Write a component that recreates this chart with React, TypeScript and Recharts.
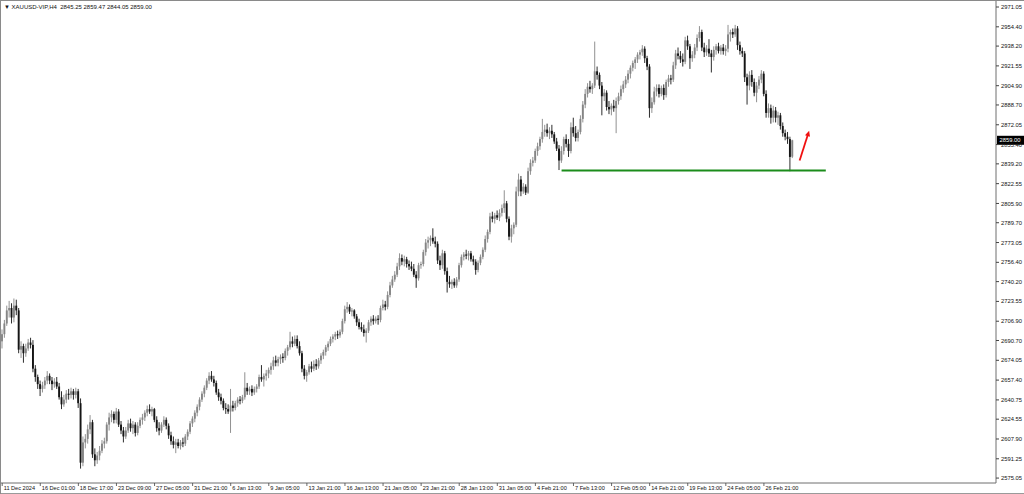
import { Bar, ComposedChart, ReferenceLine, XAxis, YAxis } from "recharts";

// XAUUSD H4, 11 Dec 2024 09:00 .. 28 Feb 2025
const opens = [
  2690, 2696, 2705, 2716, 2718, 2710, 2720, 2716, 2683, 2686,
  2680, 2684, 2689, 2687, 2667, 2660, 2654, 2650, 2653, 2657,
  2661, 2657, 2654, 2656, 2652, 2643, 2637, 2641, 2646, 2645,
  2648, 2645, 2648, 2638, 2588, 2605, 2608, 2616, 2622, 2595,
  2590, 2594, 2598, 2604, 2606, 2620, 2626, 2629, 2624, 2631,
  2620, 2615, 2610, 2615, 2621, 2617, 2620, 2613, 2619, 2624,
  2626, 2630, 2633, 2631, 2633, 2624, 2617, 2615, 2620, 2624,
  2619, 2611, 2606, 2603, 2605, 2602, 2605, 2604, 2610, 2614,
  2621, 2625, 2630, 2635, 2641, 2646, 2651, 2657, 2661, 2658,
  2655, 2647, 2643, 2640, 2634, 2633, 2631, 2636, 2634, 2638,
  2641, 2640, 2643, 2651, 2648, 2650, 2647, 2650, 2652, 2660,
  2658, 2661, 2663, 2666, 2669, 2674, 2672, 2675, 2677, 2676,
  2682, 2685, 2690, 2688, 2692, 2686, 2680, 2667, 2661, 2664,
  2669, 2667, 2671, 2669, 2674, 2678, 2681, 2685, 2688, 2692,
  2694, 2696, 2695, 2698, 2707, 2717, 2719, 2715, 2716, 2711,
  2706, 2702, 2700, 2697, 2699, 2706, 2709, 2707, 2709, 2708,
  2718, 2721, 2719, 2729, 2737, 2742, 2746, 2753, 2760, 2757,
  2759, 2755, 2753, 2751, 2746, 2743, 2754, 2755, 2765, 2773,
  2775, 2777, 2774, 2772, 2758, 2754, 2764, 2749, 2740, 2738,
  2740, 2737, 2742, 2754, 2761, 2763, 2762, 2764, 2759, 2757,
  2750, 2756, 2761, 2767, 2776, 2782, 2795, 2793, 2796, 2794,
  2798, 2802, 2806, 2793, 2778, 2785, 2788, 2816, 2826, 2816,
  2820, 2815, 2833, 2840, 2842, 2850, 2854, 2860, 2866, 2868,
  2865, 2867, 2864, 2858, 2852, 2842, 2850, 2860, 2856, 2850,
  2870, 2865, 2861, 2866, 2877, 2889, 2898, 2904, 2902, 2905,
  2917, 2914, 2905, 2896, 2899, 2887, 2885, 2888, 2886, 2892,
  2896, 2902, 2906, 2910, 2915, 2920, 2924, 2927, 2931, 2933,
  2936, 2928, 2921, 2886, 2891, 2900, 2903, 2898, 2903, 2897,
  2908, 2911, 2910, 2922, 2932, 2930, 2927, 2925, 2943, 2938,
  2928, 2931, 2937, 2945, 2950, 2937, 2933, 2936, 2932, 2929,
  2935, 2938, 2934, 2937, 2934, 2936, 2948, 2950, 2948, 2953,
  2939, 2934, 2932, 2912, 2905, 2914, 2908, 2899, 2905, 2910,
  2915, 2898, 2882, 2886, 2878, 2884, 2878, 2880, 2871, 2865,
  2862, 2860, 2845.25,
];

const highs = [
  2700, 2708, 2720, 2724, 2722, 2726, 2725, 2718, 2690, 2688,
  2688, 2692, 2693, 2691, 2670, 2662, 2657, 2656, 2660, 2665,
  2663, 2660, 2659, 2660, 2655, 2648, 2645, 2649, 2650, 2651,
  2650, 2651, 2650, 2642, 2610, 2612, 2620, 2628, 2624, 2600,
  2597, 2602, 2607, 2609, 2622, 2630, 2632, 2631, 2634, 2633,
  2623, 2618, 2618, 2624, 2625, 2623, 2622, 2622, 2626, 2629,
  2632, 2636, 2637, 2635, 2634, 2627, 2622, 2622, 2627, 2626,
  2621, 2614, 2610, 2608, 2608, 2607, 2609, 2612, 2616, 2623,
  2627, 2632, 2637, 2643, 2648, 2653, 2659, 2664, 2665, 2661,
  2657, 2650, 2646, 2642, 2638, 2637, 2650, 2640, 2640, 2643,
  2644, 2645, 2664, 2655, 2652, 2653, 2652, 2654, 2662, 2670,
  2663, 2666, 2668, 2672, 2677, 2678, 2677, 2679, 2680, 2684,
  2687, 2698, 2694, 2695, 2695, 2690, 2682, 2670, 2666, 2671,
  2673, 2674, 2675, 2676, 2680, 2683, 2687, 2690, 2694, 2696,
  2698, 2699, 2700, 2709, 2720, 2723, 2721, 2718, 2717, 2713,
  2709, 2706, 2704, 2701, 2708, 2711, 2712, 2711, 2712, 2720,
  2725, 2724, 2732, 2740, 2745, 2749, 2756, 2764, 2763, 2762,
  2761, 2758, 2757, 2755, 2749, 2756, 2757, 2767, 2776, 2778,
  2779, 2785, 2778, 2774, 2762, 2767, 2766, 2752, 2745, 2742,
  2743, 2744, 2756, 2763, 2765, 2767, 2766, 2766, 2762, 2759,
  2758, 2763, 2769, 2779, 2784, 2798, 2799, 2798, 2800, 2801,
  2805, 2817, 2808, 2795, 2788, 2790, 2820, 2831, 2829, 2823,
  2822, 2836, 2843, 2845, 2852, 2857, 2862, 2877, 2872, 2873,
  2870, 2872, 2866, 2861, 2855, 2854, 2862, 2864, 2860, 2874,
  2878, 2871, 2868, 2880, 2892, 2902, 2907, 2909, 2907, 2942,
  2921, 2916, 2908, 2902, 2901, 2892, 2890, 2893, 2895, 2899,
  2905, 2909, 2913, 2918, 2922, 2926, 2929, 2933, 2935, 2939,
  2938, 2930, 2923, 2895, 2904, 2906, 2906, 2905, 2906, 2910,
  2914, 2914, 2925, 2935, 2937, 2934, 2932, 2946, 2947, 2940,
  2934, 2940, 2948, 2955, 2952, 2941, 2939, 2944, 2935, 2938,
  2940, 2941, 2939, 2940, 2939, 2956, 2952, 2953, 2956, 2955,
  2942, 2937, 2934, 2915, 2917, 2918, 2911, 2908, 2913, 2918,
  2917, 2901, 2890, 2889, 2888, 2887, 2883, 2882, 2874, 2868,
  2866, 2862, 2859.47,
];

const lows = [
  2684, 2693, 2703, 2710, 2705, 2706, 2712, 2680, 2676, 2672,
  2677, 2682, 2684, 2664, 2656, 2650, 2644, 2647, 2650, 2654,
  2654, 2649, 2651, 2650, 2641, 2633, 2635, 2638, 2641, 2642,
  2641, 2642, 2634, 2583, 2585, 2600, 2604, 2612, 2592, 2585,
  2587, 2590, 2596, 2600, 2604, 2615, 2622, 2621, 2621, 2618,
  2612, 2605, 2608, 2613, 2614, 2612, 2610, 2611, 2617, 2620,
  2623, 2627, 2629, 2627, 2622, 2614, 2611, 2613, 2618, 2616,
  2608, 2603, 2600, 2596, 2600, 2599, 2601, 2602, 2607, 2612,
  2618, 2622, 2627, 2632, 2639, 2643, 2649, 2654, 2656, 2652,
  2645, 2640, 2637, 2632, 2629, 2629, 2613, 2631, 2632, 2635,
  2637, 2638, 2641, 2645, 2645, 2644, 2645, 2647, 2650, 2656,
  2652, 2657, 2659, 2662, 2666, 2669, 2669, 2671, 2672, 2674,
  2678, 2683, 2685, 2686, 2684, 2678, 2664, 2658, 2656, 2662,
  2664, 2665, 2666, 2667, 2671, 2675, 2678, 2682, 2686, 2689,
  2691, 2692, 2693, 2696, 2705, 2714, 2713, 2711, 2709, 2703,
  2700, 2698, 2694, 2689, 2697, 2703, 2704, 2705, 2704, 2706,
  2716, 2716, 2717, 2727, 2735, 2740, 2744, 2750, 2754, 2753,
  2752, 2750, 2749, 2744, 2735, 2741, 2751, 2753, 2762, 2768,
  2770, 2772, 2769, 2755, 2750, 2751, 2746, 2731, 2735, 2734,
  2735, 2735, 2740, 2752, 2758, 2759, 2758, 2757, 2754, 2746,
  2748, 2754, 2759, 2765, 2773, 2780, 2790, 2789, 2792, 2791,
  2795, 2798, 2790, 2775, 2773, 2780, 2786, 2812, 2812, 2814,
  2813, 2814, 2830, 2837, 2840, 2846, 2851, 2857, 2862, 2862,
  2860, 2861, 2856, 2850, 2834, 2840, 2847, 2853, 2845, 2848,
  2862, 2858, 2858, 2864, 2874, 2886, 2895, 2899, 2898, 2903,
  2910, 2902, 2880, 2892, 2884, 2881, 2880, 2883, 2865, 2889,
  2893, 2899, 2903, 2907, 2911, 2917, 2919, 2924, 2927, 2930,
  2924, 2918, 2878, 2882, 2889, 2896, 2895, 2896, 2893, 2895,
  2904, 2906, 2908, 2919, 2927, 2924, 2921, 2923, 2935, 2919,
  2925, 2928, 2934, 2942, 2934, 2929, 2930, 2929, 2916, 2926,
  2931, 2932, 2931, 2931, 2930, 2933, 2942, 2945, 2946, 2935,
  2931, 2929, 2908, 2889, 2901, 2904, 2896, 2891, 2902, 2907,
  2896, 2878, 2878, 2873, 2874, 2874, 2872, 2868, 2862, 2859,
  2856, 2833, 2844.05,
];

const closes = [
  2696, 2705, 2716, 2718, 2710, 2720, 2716, 2683, 2686, 2680,
  2684, 2689, 2687, 2667, 2660, 2654, 2650, 2653, 2657, 2661,
  2657, 2654, 2656, 2652, 2643, 2637, 2641, 2646, 2645, 2648,
  2645, 2648, 2638, 2588, 2605, 2608, 2616, 2622, 2595, 2590,
  2594, 2598, 2604, 2606, 2620, 2626, 2629, 2624, 2631, 2620,
  2615, 2610, 2615, 2621, 2617, 2620, 2613, 2619, 2624, 2626,
  2630, 2633, 2631, 2633, 2624, 2617, 2615, 2620, 2624, 2619,
  2611, 2606, 2603, 2605, 2602, 2605, 2604, 2610, 2614, 2621,
  2625, 2630, 2635, 2641, 2646, 2651, 2657, 2661, 2658, 2655,
  2647, 2643, 2640, 2634, 2633, 2631, 2636, 2634, 2638, 2641,
  2640, 2643, 2651, 2648, 2650, 2647, 2650, 2652, 2660, 2658,
  2661, 2663, 2666, 2669, 2674, 2672, 2675, 2677, 2676, 2682,
  2685, 2690, 2688, 2692, 2686, 2680, 2667, 2661, 2664, 2669,
  2667, 2671, 2669, 2674, 2678, 2681, 2685, 2688, 2692, 2694,
  2696, 2695, 2698, 2707, 2717, 2719, 2715, 2716, 2711, 2706,
  2702, 2700, 2697, 2699, 2706, 2709, 2707, 2709, 2708, 2718,
  2721, 2719, 2729, 2737, 2742, 2746, 2753, 2760, 2757, 2759,
  2755, 2753, 2751, 2746, 2743, 2754, 2755, 2765, 2773, 2775,
  2777, 2774, 2772, 2758, 2754, 2764, 2749, 2740, 2738, 2740,
  2737, 2742, 2754, 2761, 2763, 2762, 2764, 2759, 2757, 2750,
  2756, 2761, 2767, 2776, 2782, 2795, 2793, 2796, 2794, 2798,
  2802, 2806, 2793, 2778, 2785, 2788, 2816, 2826, 2816, 2820,
  2815, 2833, 2840, 2842, 2850, 2854, 2860, 2866, 2868, 2865,
  2867, 2864, 2858, 2852, 2842, 2850, 2860, 2856, 2850, 2870,
  2865, 2861, 2866, 2877, 2889, 2898, 2904, 2902, 2905, 2917,
  2914, 2905, 2896, 2899, 2887, 2885, 2888, 2886, 2892, 2896,
  2902, 2906, 2910, 2915, 2920, 2924, 2927, 2931, 2933, 2936,
  2928, 2921, 2886, 2891, 2900, 2903, 2898, 2903, 2897, 2908,
  2911, 2910, 2922, 2932, 2930, 2927, 2925, 2943, 2938, 2928,
  2931, 2937, 2945, 2950, 2937, 2933, 2936, 2932, 2929, 2935,
  2938, 2934, 2937, 2934, 2936, 2948, 2950, 2948, 2953, 2939,
  2934, 2932, 2912, 2905, 2914, 2908, 2899, 2905, 2910, 2915,
  2898, 2882, 2886, 2878, 2884, 2878, 2880, 2871, 2865, 2862,
  2860, 2845, 2859,
];

// one label every 16 bars, starting at the first bar
const timeLabels = [
  "11 Dec 2024", "16 Dec 01:00", "18 Dec 17:00", "23 Dec 09:00",
  "27 Dec 05:00", "31 Dec 21:00", "6 Jan 13:00", "9 Jan 05:00",
  "13 Jan 21:00", "16 Jan 13:00", "21 Jan 05:00", "23 Jan 21:00",
  "28 Jan 13:00", "31 Jan 05:00", "4 Feb 21:00", "7 Feb 13:00",
  "12 Feb 05:00", "14 Feb 21:00", "19 Feb 13:00", "24 Feb 05:00",
  "26 Feb 21:00",
];
const LABEL_STEP = 16;

const priceTicks = [
  2971.05, 2954.4, 2938.2, 2921.55, 2904.9, 2888.7, 2872.05, 2855.4,
  2839.2, 2822.55, 2805.9, 2789.7, 2773.05, 2756.4, 2740.2, 2723.55,
  2706.9, 2690.7, 2674.05, 2657.4, 2640.75, 2624.55, 2607.9, 2591.25,
  2575.05,
];

const symbolHeader = "XAUUSD-VIP,H4  2845.25 2859.47 2844.05 2859.00";
const lastPrice = 2859.0;

// horizontal support line drawn on the chart (bar index -> bar index)
const supportLevel = 2833.6;
const supportFromBar = 235;
const supportToBar = 346;

// red arrow annotation
const arrowFrom = { bar: 335, price: 2842 };
const arrowTo = { bar: 339, price: 2867 };

const SLOTS = 418; // visible bar slots incl. the empty shift area on the right
const FONT = "'Liberation Sans', Arial, sans-serif";

const data = Array.from({ length: SLOTS }, (_, i) =>
  i < opens.length
    ? {
        i,
        open: opens[i],
        high: highs[i],
        low: lows[i],
        close: closes[i],
        range: [lows[i], highs[i]],
      }
    : { i }
);

function Candle(props: any) {
  const { x, y, width, height, payload } = props;
  if (!payload || payload.open == null) return null;
  const { open, high, low, close } = payload;
  const top = Math.min(y, y + height);
  const span = Math.abs(height);
  const k = high > low ? span / (high - low) : 0;
  const py = (v: number) => top + (high - v) * k;
  const cx = x + width / 2;
  const up = close >= open;
  const color = up ? "#858585" : "#151515";
  const bodyTop = py(Math.max(open, close));
  const bodyH = Math.max(0.8, Math.abs(py(open) - py(close)));
  return (
    <g>
      <line x1={cx} x2={cx} y1={top} y2={top + span} stroke={color} strokeWidth={0.9} />
      <rect x={cx - 0.95} y={bodyTop} width={1.9} height={bodyH} fill={color} />
    </g>
  );
}

function TimeTick(props: any) {
  const { x, y, payload } = props;
  const label = timeLabels[Math.round(payload.value / LABEL_STEP)];
  return (
    <g>
      <line x1={x} x2={x} y1={y} y2={y + 3} stroke="#444" strokeWidth={0.8} />
      <text x={x + 1.5} y={y + 6.8} fontSize={5.6} fontFamily={FONT} fill="#111">
        {label}
      </text>
    </g>
  );
}

function PriceTag(props: any) {
  const vb = props.viewBox || {};
  const right = (vb.x || 0) + (vb.width || 0);
  const cy = vb.y || 0;
  return (
    <g>
      <rect x={right + 1} y={cy - 4.5} width={27} height={9} fill="#000" />
      <text x={right + 3.5} y={cy + 2.1} fontSize={5.8} fontFamily={FONT} fill="#fff">
        {lastPrice.toFixed(2)}
      </text>
    </g>
  );
}

function ArrowShape(props: any) {
  const { x1, y1, x2, y2 } = props;
  if ([x1, y1, x2, y2].some((v) => v == null || isNaN(v))) return null;
  const ang = Math.atan2(y2 - y1, x2 - x1);
  const len = 6;
  const spread = 0.45;
  const ax = x2 - len * Math.cos(ang - spread);
  const ay = y2 - len * Math.sin(ang - spread);
  const bx = x2 - len * Math.cos(ang + spread);
  const by = y2 - len * Math.sin(ang + spread);
  const sx = x2 - 4 * Math.cos(ang);
  const sy = y2 - 4 * Math.sin(ang);
  return (
    <g>
      <line x1={x1} y1={y1} x2={sx} y2={sy} stroke="#f01010" strokeWidth={1.8} />
      <polygon points={`${x2},${y2} ${ax},${ay} ${bx},${by}`} fill="#f01010" />
    </g>
  );
}

export default function App() {
  return (
    <div
      style={{
        position: "absolute",
        left: 0,
        top: 0,
        width: 1024,
        height: 494,
        background: "#fff",
        overflow: "hidden",
        boxSizing: "border-box",
        borderLeft: "1px solid #8a8a8a",
        borderTop: "1px solid #8a8a8a",
      }}
    >
      <ComposedChart
        width={1023}
        height={491}
        data={data}
        margin={{ top: 0, right: 0, left: 0, bottom: 0 }}
        barCategoryGap={0}
      >
        <XAxis
          dataKey="i"
          type="category"
          ticks={timeLabels.map((_, k) => k * LABEL_STEP)}
          interval={0}
          height={9}
          tickLine={false}
          tickSize={0}
          tickMargin={0}
          axisLine={{ stroke: "#6e6e6e" }}
          tick={<TimeTick />}
        />
        <YAxis
          orientation="right"
          width={28}
          domain={[2570.9, 2976.1]}
          allowDataOverflow
          ticks={priceTicks}
          interval={0}
          tickSize={3}
          tickMargin={2}
          tickLine={{ stroke: "#444" }}
          axisLine={{ stroke: "#6e6e6e" }}
          tick={{ fontSize: 5.8, fill: "#111", fontFamily: FONT }}
          tickFormatter={(v: number) => v.toFixed(2)}
        />
        <Bar dataKey="range" shape={<Candle />} isAnimationActive={false} />
        <ReferenceLine
          segment={[
            { x: supportFromBar, y: supportLevel },
            { x: supportToBar, y: supportLevel },
          ]}
          stroke="#1b8c1b"
          strokeWidth={2}
          ifOverflow="visible"
        />
        <ReferenceLine
          segment={[
            { x: arrowFrom.bar, y: arrowFrom.price },
            { x: arrowTo.bar, y: arrowTo.price },
          ]}
          shape={(p: any) => <ArrowShape {...p} />}
          ifOverflow="visible"
        />
        <ReferenceLine
          y={lastPrice}
          stroke="none"
          label={(p: any) => <PriceTag {...p} />}
        />
      </ComposedChart>
      <div
        style={{
          position: "absolute",
          left: 3,
          top: 3,
          fontFamily: FONT,
          fontSize: 6,
          whiteSpace: "pre",
          color: "#111",
          lineHeight: "7px",
        }}
      >
        {"\u25BC " + symbolHeader}
      </div>
      <div
        style={{
          position: "absolute",
          left: 0,
          top: 492,
          width: 1024,
          height: 2,
          background: "#9a9a9a",
        }}
      />
    </div>
  );
}
